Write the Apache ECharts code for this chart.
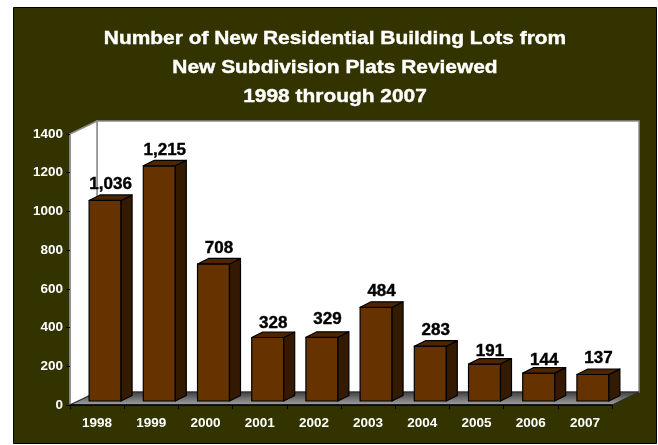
<!DOCTYPE html>
<html>
<head>
<meta charset="utf-8">
<style>html,body{margin:0;padding:0;background:#fff}#chart{width:658px;height:445px}</style>
<script src="https://cdn.jsdelivr.net/npm/echarts@6/dist/echarts.min.js"></script>
</head>
<body>
<div id="chart"></div>
<script>
const years = ['1998','1999','2000','2001','2002','2003','2004','2005','2006','2007'];
const lots = [1036,1215,708,328,329,484,283,191,144,137];
const valueLabels = ['1,036','1,215','708','328','329','484','283','191','144','137'];
const titleLines = [
  'Number of New Residential Building Lots from',
  'New Subdivision Plats Reviewed',
  '1998 through 2007'
];
// Hand-placed distance of each value label above its bar, in pixels
const labelLift = [16,15.5,15.5,14,17.8,15.8,15.5,12.5,12.5,16];

const FONT = '"Liberation Sans", Arial, sans-serif';
const WALL_DX = 27, WALL_DY = -13;   // depth of the chart box
const BAR_DX = 11, BAR_DY = -5.5;    // depth of one bar
const BAR_SHIFT_X = 8, BAR_SHIFT_Y = -4; // bars stand inside the floor
const BAR_RATIO = 0.59;

function poly(points, style) {
  return { type: 'polygon', shape: { points }, style };
}

// Back wall, side wall and floor of the box
function renderBox(params, api) {
  const r = params.coordSys;
  const l = r.x, t = r.y, b = r.y + r.height, rt = r.x + r.width;
  const edge = { stroke: '#8c8c8c', lineWidth: 1.5 };
  return {
    type: 'group',
    children: [
      poly([[l + WALL_DX, t + WALL_DY], [rt + WALL_DX, t + WALL_DY], [rt + WALL_DX, b + WALL_DY], [l + WALL_DX, b + WALL_DY]],
        { fill: '#fff', ...edge }),
      poly([[l, t], [l + WALL_DX, t + WALL_DY], [l + WALL_DX, b + WALL_DY], [l, b]],
        { fill: '#fff', ...edge }),
      poly([[l, b], [l + WALL_DX, b + WALL_DY], [rt + WALL_DX, b + WALL_DY], [rt, b]],
        {
          fill: { type: 'linear', x: 0, y: 0, x2: 0, y2: 1, colorStops: [
            { offset: 0, color: '#3c3c3c' }, { offset: 1, color: '#a6a6a6' }
          ] },
          stroke: '#2a2a2a', lineWidth: 1
        })
    ]
  };
}

// One bar: front, side and top faces plus its value label
function renderBar(params, api) {
  const idx = api.value(0);
  const top = api.coord([idx, api.value(1)]);
  const base = api.coord([idx, 0]);
  const w = api.size([1, 0])[0] * BAR_RATIO;
  const x0 = top[0] + BAR_SHIFT_X - w / 2, x1 = x0 + w;
  const y0 = top[1] + BAR_SHIFT_Y, y1 = base[1] + BAR_SHIFT_Y;
  const line = { stroke: '#000', lineWidth: 1.2, lineJoin: 'round' };
  return {
    type: 'group',
    children: [
      poly([[x0, y0], [x1, y0], [x1, y1], [x0, y1]], { fill: '#663300', ...line }),
      poly([[x1, y0], [x1 + BAR_DX, y0 + BAR_DY], [x1 + BAR_DX, y1 + BAR_DY], [x1, y1]], { fill: '#331a00', ...line }),
      poly([[x0, y0], [x0 + BAR_DX, y0 + BAR_DY], [x1 + BAR_DX, y0 + BAR_DY], [x1, y0]], { fill: '#4d2600', ...line }),
      {
        type: 'text',
        z2: 10,
        style: {
          x: (x0 + x1 + BAR_DX) / 2,
          y: y0 - labelLift[idx],
          text: valueLabels[idx],
          fill: '#000',
          stroke: '#000',
          lineWidth: 0.4,
          font: 'bold 17px ' + FONT,
          align: 'center',
          verticalAlign: 'middle'
        }
      }
    ]
  };
}

const chart = echarts.init(document.getElementById('chart'), null, { renderer: 'canvas' });
chart.setOption({
  animation: false,
  backgroundColor: '#fff',
  graphic: [{
    type: 'rect',
    z: -10,
    shape: { x: 13.5, y: 7.5, width: 643, height: 436 },
    style: { fill: '#333300', stroke: '#000', lineWidth: 1 }
  }, {
    // Title set slightly extended, as a single centred block
    type: 'text',
    z: 10,
    x: 335,
    y: 24,
    scaleX: 1.13,
    style: {
      x: 0,
      y: 0,
      text: titleLines.join('\n'),
      fill: '#fff',
      stroke: '#fff',
      lineWidth: 0.4,
      font: 'bold 18.5px ' + FONT,
      lineHeight: 29,
      align: 'center',
      verticalAlign: 'top'
    }
  }],
  grid: { left: 70, top: 134, width: 542, height: 271 },
  xAxis: {
    type: 'category',
    data: years,
    axisLine: { lineStyle: { color: '#000', width: 1.5 } },
    axisTick: { show: true, length: 4, lineStyle: { color: '#000', width: 1 } },
    axisLabel: { color: '#fff', fontFamily: FONT, fontWeight: 'bold', fontSize: 13.5, margin: 11 },
    splitLine: { show: false }
  },
  yAxis: {
    type: 'value',
    min: 0,
    max: 1400,
    interval: 200,
    axisLine: { show: true, lineStyle: { color: '#8c8c8c', width: 1.5 } },
    axisTick: { show: true, length: 4, lineStyle: { color: '#000', width: 1 } },
    axisLabel: { color: '#fff', fontFamily: FONT, fontWeight: 'bold', fontSize: 13.5, margin: 7, formatter: v => String(v) },
    splitLine: { show: false }
  },
  series: [
    { type: 'custom', name: 'box', coordinateSystem: 'cartesian2d', z: 0, silent: true,
      data: [[0, 0]], encode: { x: 0, y: 1 }, renderItem: renderBox },
    { type: 'custom', name: 'Lots', coordinateSystem: 'cartesian2d', z: 5,
      data: lots.map((v, i) => [i, v]), encode: { x: 0, y: 1 }, renderItem: renderBar }
  ]
});
</script>
</body>
</html>
